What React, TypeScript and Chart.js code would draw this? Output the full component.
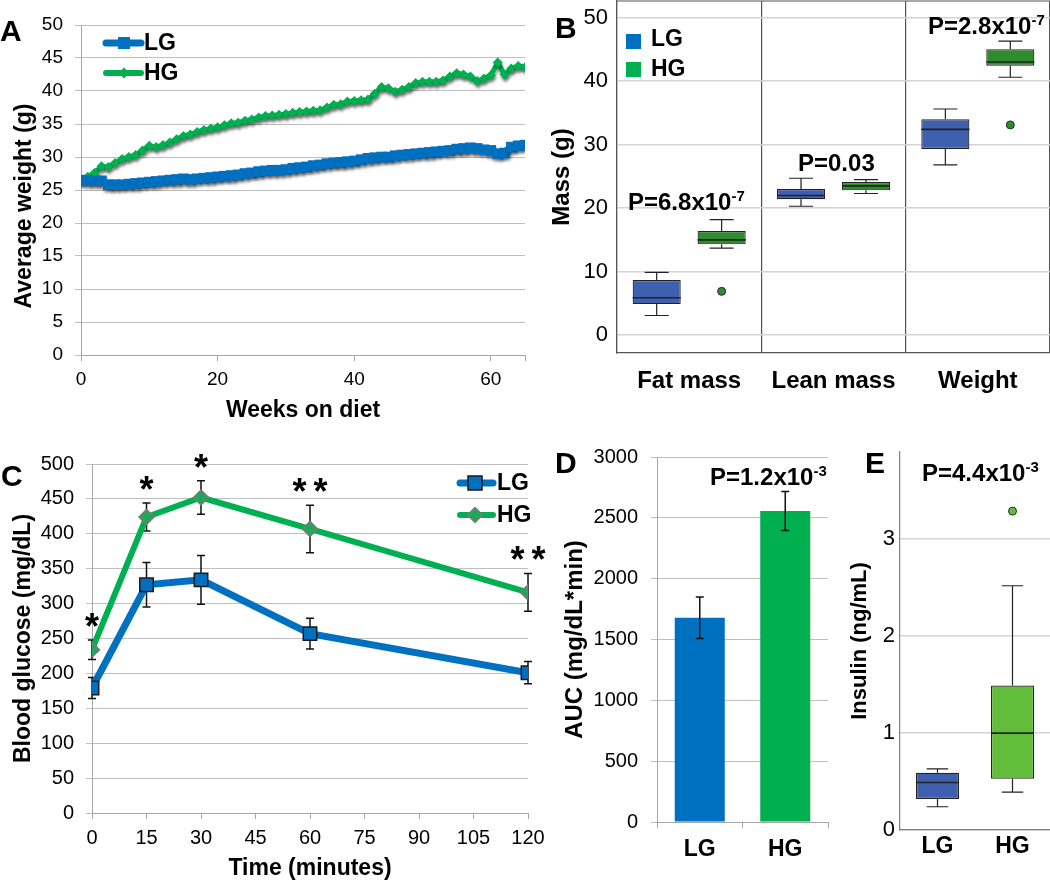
import React, { useEffect, useRef } from 'react';
import { Chart, registerables } from 'chart.js';

Chart.register(...registerables);

const FONT = '"Liberation Sans", Arial, Helvetica, sans-serif';
const BLUE = '#0070C0';
const GREEN = '#00B050';
const BOX_BLUE = '#3F5FAF';
const BOX_GREEN_B = '#2E8B2E';
const BOX_GREEN_E = '#62BE3A';

// ---------- Panel A: weight over time ----------
const A_WEEKS = [0, 1, 2, 3, 4, 5, 6, 7, 8, 9, 10, 11, 12, 13, 14, 15, 16, 17, 18, 19, 20, 21, 22, 23, 24, 25, 26, 27, 28, 29, 30, 31, 32, 33, 34, 35, 36, 37, 38, 39, 40, 41, 42, 43, 44, 45, 46, 47, 48, 49, 50, 51, 52, 53, 54, 55, 56, 57, 58, 59, 60, 61, 62, 63, 64, 65];
const A_LG = [26.5, 26.4, 26.4, 26.4, 25.8, 25.8, 25.8, 25.9, 26.0, 26.1, 26.2, 26.3, 26.4, 26.5, 26.6, 26.7, 26.6, 26.7, 26.8, 26.9, 27.0, 27.1, 27.2, 27.3, 27.5, 27.6, 27.8, 27.9, 28.0, 28.0, 28.1, 28.3, 28.4, 28.5, 28.7, 28.8, 29.0, 29.1, 29.2, 29.3, 29.4, 29.6, 29.8, 29.9, 30.0, 30.0, 30.2, 30.3, 30.4, 30.5, 30.6, 30.7, 30.8, 30.9, 31.0, 31.2, 31.3, 31.4, 31.3, 31.1, 31.0, 30.5, 30.6, 31.5, 31.7, 31.8];
const A_HG = [26.5, 27.0, 27.6, 28.6, 28.5, 29.1, 29.7, 30.0, 30.3, 31.0, 31.7, 31.5, 31.8, 32.2, 32.7, 33.2, 33.4, 33.8, 34.1, 34.3, 34.5, 34.8, 35.1, 35.2, 35.5, 35.7, 36.0, 36.2, 36.3, 36.4, 36.5, 36.7, 36.8, 36.9, 37.0, 37.1, 37.5, 37.9, 38.0, 38.4, 38.5, 38.6, 38.7, 39.6, 40.6, 40.4, 39.9, 40.2, 40.6, 41.2, 41.4, 41.4, 41.4, 41.6, 42.2, 42.7, 42.5, 42.2, 41.5, 41.9, 42.4, 44.3, 42.5, 43.4, 43.8, 43.6];
const A_X_TICKS = [0, 20, 40, 60];
const A_X_END = 65;
const A_Y_TICKS = [0, 5, 10, 15, 20, 25, 30, 35, 40, 45, 50];

// ---------- Panel B: body composition box plots ----------
const B_CATEGORIES = ['Fat mass', 'Lean mass', 'Weight'];
const B_LG_MIN = [3.1, 20.3, 26.8];
const B_LG_Q1 = [4.9, 21.4, 29.3];
const B_LG_MED = [5.9, 22.0, 32.4];
const B_LG_Q3 = [8.7, 23.0, 34.0];
const B_LG_MAX = [9.9, 24.7, 35.6];
const B_HG_MIN = [13.7, 22.3, 40.6];
const B_HG_Q1 = [14.3, 22.8, 42.4];
const B_HG_MED = [15.0, 23.5, 43.0];
const B_HG_Q3 = [16.4, 24.1, 45.0];
const B_HG_MAX = [18.2, 24.5, 46.3];
const B_HG_OUTLIERS = [6.9, null, 33.1];
const B_Y_TICKS = [0, 10, 20, 30, 40, 50];

// ---------- Panel C: glucose tolerance ----------
const C_TIMES = [0, 15, 30, 60, 120];
const C_LG = [179, 327, 334, 257, 201];
const C_LG_ERR = [15, 32, 35, 22, 16];
const C_HG = [234, 424, 452, 407, 316];
const C_HG_ERR = [14, 20, 24, 34, 27];
const C_STARS = ['*', '*', '*', '**', '**'];
const C_X_TICKS = [0, 15, 30, 45, 60, 75, 90, 105, 120];
const C_Y_TICKS = [0, 50, 100, 150, 200, 250, 300, 350, 400, 450, 500];

// ---------- Panel D: AUC ----------
const D_GROUPS = ['LG', 'HG'];
const D_AUC = [1679, 2556];
const D_ERR = [170, 160];
const D_Y_TICKS = [0, 500, 1000, 1500, 2000, 2500, 3000];

// ---------- Panel E: insulin box plots ----------
const E_GROUPS = ['LG', 'HG'];
const E_MIN = [0.24, 0.39];
const E_Q1 = [0.32, 0.53];
const E_MED = [0.49, 1.0];
const E_Q3 = [0.59, 1.49];
const E_MAX = [0.63, 2.52];
const E_OUTLIERS = [null, 3.29];
const E_Y_TICKS = [0, 1, 2, 3];

// ---------- helpers ----------
const fixY = (w: number) => (s: any) => { s.width = w; s.paddingTop = 0; s.paddingBottom = 0; };
const fixX = (h: number) => (s: any) => { s.height = h; s.paddingLeft = 0; s.paddingRight = 0; };
const setTicks = (vals: number[]) => (s: any) => { s.ticks = vals.map((v) => ({ value: v })); };
const plain = (v: any) => String(v);

function drawDiamond(ctx: CanvasRenderingContext2D, x: number, y: number, r: number) {
  ctx.beginPath();
  ctx.moveTo(x - r, y);
  ctx.lineTo(x, y - r);
  ctx.lineTo(x + r, y);
  ctx.lineTo(x, y + r);
  ctx.closePath();
}

function boxPlugin(id: string, groups: any[]) {
  return {
    id,
    afterDatasetsDraw(chart: any) {
      const { ctx } = chart;
      const ys = chart.scales.y;
      groups.forEach((g) => {
        const meta = chart.getDatasetMeta(g.dataset);
        meta.data.forEach((el: any, i: number) => {
          const { x, width } = el.getProps(['x', 'width'], true);
          const half = width / 2;
          const cap = width / 4;
          const pMin = ys.getPixelForValue(g.min[i]);
          const pQ1 = ys.getPixelForValue(g.q1[i]);
          const pMed = ys.getPixelForValue(g.med[i]);
          const pQ3 = ys.getPixelForValue(g.q3[i]);
          const pMax = ys.getPixelForValue(g.max[i]);
          ctx.save();
          ctx.strokeStyle = '#222';
          ctx.lineWidth = 1.2;
          ctx.beginPath();
          ctx.moveTo(x, pQ3); ctx.lineTo(x, pMax);
          ctx.moveTo(x - cap, pMax); ctx.lineTo(x + cap, pMax);
          ctx.moveTo(x, pQ1); ctx.lineTo(x, pMin);
          ctx.moveTo(x - cap, pMin); ctx.lineTo(x + cap, pMin);
          ctx.stroke();
          ctx.lineWidth = 1.6;
          ctx.beginPath();
          ctx.moveTo(x - half, pMed); ctx.lineTo(x + half, pMed);
          ctx.stroke();
          const o = g.outliers ? g.outliers[i] : null;
          if (o !== null && o !== undefined) {
            ctx.beginPath();
            ctx.arc(x, ys.getPixelForValue(o), 4, 0, Math.PI * 2);
            ctx.fillStyle = g.outlierColor;
            ctx.fill();
            ctx.lineWidth = 1;
            ctx.strokeStyle = '#2a2a2a';
            ctx.stroke();
          }
          ctx.restore();
        });
      });
    },
  };
}

function errorBarPlugin(id: string, items: { dataset: number; values: number[]; errs: number[] }[], when: 'before' | 'after') {
  const draw = (chart: any) => {
    const { ctx } = chart;
    const ys = chart.scales.y;
    items.forEach((it) => {
      const meta = chart.getDatasetMeta(it.dataset);
      meta.data.forEach((el: any, i: number) => {
        const x = el.x;
        const top = ys.getPixelForValue(it.values[i] + it.errs[i]);
        const bot = ys.getPixelForValue(it.values[i] - it.errs[i]);
        ctx.save();
        ctx.strokeStyle = '#111';
        ctx.lineWidth = 1.5;
        ctx.beginPath();
        ctx.moveTo(x, top); ctx.lineTo(x, bot);
        ctx.moveTo(x - 4, top); ctx.lineTo(x + 4, top);
        ctx.moveTo(x - 4, bot); ctx.lineTo(x + 4, bot);
        ctx.stroke();
        ctx.restore();
      });
    });
  };
  return when === 'before' ? { id, beforeDatasetsDraw: draw } : { id, afterDatasetsDraw: draw };
}

const tickFont = (size: number, bold = false) => ({ size, family: FONT, weight: bold ? 'bold' : 'normal' });

// ---------- configs ----------
function configA(): any {
  return {
    type: 'line',
    data: {
      datasets: [
        {
          label: 'LG',
          data: A_WEEKS.map((w, i) => ({ x: w, y: A_LG[i] })),
          borderColor: BLUE, backgroundColor: BLUE,
          borderWidth: 8, pointStyle: 'rect', pointRadius: 7.5, pointBorderWidth: 0, tension: 0,
        },
        {
          label: 'HG',
          data: A_WEEKS.map((w, i) => ({ x: w, y: A_HG[i] })),
          borderColor: GREEN, backgroundColor: GREEN,
          borderWidth: 5, pointStyle: 'rectRot', pointRadius: 5, pointBorderWidth: 0, tension: 0,
        },
      ],
    },
    options: {
      responsive: false, animation: false,
      layout: { padding: { top: 25, right: 15, left: 0, bottom: 0 } },
      plugins: { legend: { display: false }, tooltip: { enabled: false } },
      scales: {
        x: {
          type: 'linear', min: 0, max: A_X_END,
          afterBuildTicks: setTicks([...A_X_TICKS, A_X_END]),
          afterFit: fixX(70),
          ticks: { callback: (v: number) => (A_X_TICKS.includes(v) ? String(v) : ''), font: tickFont(19), color: '#000', padding: 7, maxRotation: 0, autoSkip: false },
          grid: { drawOnChartArea: false, drawTicks: true, tickLength: 6, color: '#A6A6A6' },
          border: { color: '#A6A6A6' },
          title: { display: true, text: 'Weeks on diet', font: tickFont(23, true), color: '#000', padding: { top: 0, bottom: 1 } },
        },
        y: {
          min: 0, max: 50,
          afterBuildTicks: setTicks(A_Y_TICKS),
          afterFit: fixY(81),
          ticks: { callback: plain, font: tickFont(19), color: '#000', padding: 12 },
          grid: { color: '#BFBFBF', tickLength: 6 },
          border: { color: '#A6A6A6' },
          title: { display: true, text: 'Average weight (g)     ', font: tickFont(23, true), color: '#000', padding: { top: 11, bottom: 0 } },
        },
      },
    },
    plugins: [
      {
        id: 'shadowA',
        beforeDatasetsDraw(chart: any) {
          const c = chart.ctx; c.save();
          c.shadowColor = 'rgba(0,0,0,0.35)'; c.shadowBlur = 3; c.shadowOffsetY = 3; c.shadowOffsetX = 1;
        },
        afterDatasetsDraw(chart: any) { chart.ctx.restore(); },
      },
      {
        id: 'legendA',
        afterDraw(chart: any) {
          const c = chart.ctx;
          c.save();
          c.strokeStyle = BLUE; c.lineWidth = 7; c.lineCap = 'round';
          c.beginPath(); c.moveTo(106, 43); c.lineTo(141, 43); c.stroke();
          c.fillStyle = BLUE; c.fillRect(118, 37, 12, 12);
          c.strokeStyle = GREEN; c.lineWidth = 6;
          c.beginPath(); c.moveTo(106, 73); c.lineTo(141, 73); c.stroke();
          c.fillStyle = GREEN; drawDiamond(c, 124, 73, 5.5); c.fill();
          c.fillStyle = '#000'; c.font = `bold 23px ${FONT}`; c.textBaseline = 'middle';
          c.fillText('LG', 144, 44);
          c.fillText('HG', 144, 74);
          c.restore();
        },
      },
    ],
  };
}

function configB(): any {
  return {
    type: 'bar',
    data: {
      labels: B_CATEGORIES,
      datasets: [
        {
          label: 'LG', data: B_LG_Q1.map((q, i) => [q, B_LG_Q3[i]]),
          backgroundColor: BOX_BLUE, borderColor: '#222', borderWidth: 1.2, borderSkipped: false,
          categoryPercentage: 0.9, barPercentage: 0.74,
        },
        {
          label: 'HG', data: B_HG_Q1.map((q, i) => [q, B_HG_Q3[i]]),
          backgroundColor: BOX_GREEN_B, borderColor: '#222', borderWidth: 1.2, borderSkipped: false,
          categoryPercentage: 0.9, barPercentage: 0.74,
        },
      ],
    },
    options: {
      responsive: false, animation: false,
      layout: { padding: { top: 1, right: 0, left: 0, bottom: 0 } },
      plugins: { legend: { display: false }, tooltip: { enabled: false } },
      scales: {
        x: {
          afterFit: fixX(67),
          ticks: { font: tickFont(24, true), color: '#000', padding: 14, maxRotation: 0, autoSkip: false },
          grid: { offset: true, drawOnChartArea: true, drawTicks: false, color: '#555', lineWidth: 1.2 },
          border: { color: '#555', width: 1.2 },
        },
        y: {
          min: -2.8, max: 52.6,
          afterBuildTicks: setTicks(B_Y_TICKS),
          afterFit: fixY(77),
          ticks: { callback: plain, font: tickFont(22), color: '#000', padding: 9 },
          grid: { color: '#D4D4D4', lineWidth: 1.5, drawTicks: false },
          border: { color: '#555', width: 1.2 },
          title: { display: true, text: 'Mass (g)', font: tickFont(24, true), color: '#000', padding: { top: 8, bottom: 0 } },
        },
      },
    },
    plugins: [
      {
        id: 'frameB',
        beforeDatasetsDraw(chart: any) {
          const c = chart.ctx; const a = chart.chartArea;
          c.save(); c.strokeStyle = '#555'; c.lineWidth = 1.2;
          c.beginPath(); c.moveTo(a.left, a.top); c.lineTo(a.right, a.top); c.stroke();
          c.restore();
        },
      },
      boxPlugin('boxB', [
        { dataset: 0, min: B_LG_MIN, q1: B_LG_Q1, med: B_LG_MED, q3: B_LG_Q3, max: B_LG_MAX, outliers: null, outlierColor: BOX_BLUE },
        { dataset: 1, min: B_HG_MIN, q1: B_HG_Q1, med: B_HG_MED, q3: B_HG_Q3, max: B_HG_MAX, outliers: B_HG_OUTLIERS, outlierColor: BOX_GREEN_B },
      ]),
      {
        id: 'legendB',
        afterDraw(chart: any) {
          const c = chart.ctx;
          c.save();
          c.fillStyle = BLUE; c.fillRect(86, 34, 15, 15);
          c.fillStyle = GREEN; c.fillRect(86, 62, 15, 15);
          c.fillStyle = '#000'; c.font = `bold 23px ${FONT}`; c.textBaseline = 'middle';
          c.fillText('LG', 111, 40);
          c.fillText('HG', 111, 70);
          c.restore();
        },
      },
    ],
  };
}

function configC(): any {
  return {
    type: 'line',
    data: {
      datasets: [
        {
          label: 'LG', data: C_TIMES.map((t, i) => ({ x: t, y: C_LG[i] })),
          borderColor: BLUE, backgroundColor: BLUE, borderWidth: 7,
          pointStyle: 'rect', pointRadius: 9.5, pointBorderColor: '#1a1a1a', pointBorderWidth: 1.5, tension: 0,
        },
        {
          label: 'HG', data: C_TIMES.map((t, i) => ({ x: t, y: C_HG[i] })),
          borderColor: GREEN, backgroundColor: '#1FA858', borderWidth: 6,
          pointStyle: 'rectRot', pointRadius: 7.5, pointBorderColor: '#7a7a7a', pointBorderWidth: 1.5, tension: 0,
        },
      ],
    },
    options: {
      responsive: false, animation: false,
      layout: { padding: { top: 44, right: 32, left: 0, bottom: 0 } },
      plugins: { legend: { display: false }, tooltip: { enabled: false } },
      scales: {
        x: {
          type: 'linear', min: 0, max: 120,
          afterBuildTicks: setTicks(C_X_TICKS),
          afterFit: fixX(69),
          ticks: { callback: plain, font: tickFont(20), color: '#000', padding: 7, maxRotation: 0, autoSkip: false },
          grid: { drawOnChartArea: false, tickLength: 6, color: '#A6A6A6' },
          border: { color: '#A6A6A6' },
          title: { display: true, text: 'Time (minutes)', font: tickFont(23, true), color: '#000', padding: { top: 0, bottom: 0 } },
        },
        y: {
          min: 0, max: 500,
          afterBuildTicks: setTicks(C_Y_TICKS),
          afterFit: fixY(92),
          ticks: { callback: plain, font: tickFont(20), color: '#000', padding: 12 },
          grid: { color: '#BFBFBF', tickLength: 6 },
          border: { color: '#A6A6A6' },
          title: { display: true, text: 'Blood glucose (mg/dL)', font: tickFont(23, true), color: '#000', padding: { top: 10, bottom: 0 } },
        },
      },
    },
    plugins: [
      errorBarPlugin('errC', [
        { dataset: 0, values: C_LG, errs: C_LG_ERR },
        { dataset: 1, values: C_HG, errs: C_HG_ERR },
      ], 'before'),
      {
        id: 'starsC',
        afterDraw(chart: any) {
          const c = chart.ctx; const xs = chart.scales.x; const ys = chart.scales.y;
          c.save();
          c.fillStyle = '#000'; c.font = `bold 36px ${FONT}`; c.textAlign = 'center'; c.textBaseline = 'alphabetic';
          C_STARS.forEach((s, i) => {
            const x = xs.getPixelForValue(C_TIMES[i]);
            const cy = ys.getPixelForValue(C_HG[i] + C_HG_ERR[i]) - 21;
            const n = s.length;
            for (let k = 0; k < n; k++) {
              const dx = (k - (n - 1) / 2) * 21;
              c.fillText('*', x + dx, cy + 0.55 * 36);
            }
          });
          c.restore();
        },
      },
      {
        id: 'legendC',
        afterDraw(chart: any) {
          const c = chart.ctx;
          c.save();
          c.lineCap = 'round';
          c.strokeStyle = BLUE; c.lineWidth = 7;
          c.beginPath(); c.moveTo(460, 63); c.lineTo(493, 63); c.stroke();
          c.fillStyle = BLUE; c.fillRect(468, 56, 14, 14);
          c.strokeStyle = '#1a1a1a'; c.lineWidth = 1.5; c.strokeRect(468, 56, 14, 14);
          c.strokeStyle = GREEN; c.lineWidth = 6;
          c.beginPath(); c.moveTo(460, 95); c.lineTo(493, 95); c.stroke();
          c.fillStyle = '#1FA858'; drawDiamond(c, 475, 95, 7.5); c.fill();
          c.strokeStyle = '#7a7a7a'; c.lineWidth = 1.5; c.stroke();
          c.fillStyle = '#000'; c.font = `bold 23px ${FONT}`; c.textBaseline = 'middle';
          c.fillText('LG', 497, 64);
          c.fillText('HG', 497, 96);
          c.restore();
        },
      },
    ],
  };
}

function configD(): any {
  return {
    type: 'bar',
    data: {
      labels: D_GROUPS,
      datasets: [
        { label: 'AUC', data: D_AUC, backgroundColor: [BLUE, GREEN], borderWidth: 0, categoryPercentage: 1, barPercentage: 0.585 },
      ],
    },
    options: {
      responsive: false, animation: false,
      layout: { padding: { top: 37, right: 32, left: 0, bottom: 0 } },
      plugins: { legend: { display: false }, tooltip: { enabled: false } },
      scales: {
        x: {
          afterFit: fixX(60),
          ticks: { font: tickFont(23, true), color: '#000', padding: 8, maxRotation: 0 },
          grid: { offset: true, drawOnChartArea: false, tickLength: 6, color: '#A6A6A6' },
          border: { color: '#A6A6A6' },
        },
        y: {
          min: 0, max: 3000,
          afterBuildTicks: setTicks(D_Y_TICKS),
          afterFit: fixY(117),
          ticks: { callback: plain, font: tickFont(20), color: '#000', padding: 13 },
          grid: { color: '#BFBFBF', tickLength: 6 },
          border: { color: '#A6A6A6' },
          title: { display: true, text: 'AUC (mg/dL*min)', font: tickFont(24, true), color: '#000', padding: { top: 21, bottom: 0 } },
        },
      },
    },
    plugins: [errorBarPlugin('errD', [{ dataset: 0, values: D_AUC, errs: D_ERR }], 'after')],
  };
}

function configE(): any {
  return {
    type: 'bar',
    data: {
      labels: E_GROUPS,
      datasets: [
        {
          label: 'Insulin', data: E_Q1.map((q, i) => [q, E_Q3[i]]),
          backgroundColor: [BOX_BLUE, BOX_GREEN_E], borderColor: '#222', borderWidth: 1.2, borderSkipped: false,
          categoryPercentage: 1, barPercentage: 0.573,
        },
      ],
    },
    options: {
      responsive: false, animation: false,
      layout: { padding: { top: 32, right: 0, left: 0, bottom: 0 } },
      plugins: { legend: { display: false }, tooltip: { enabled: false } },
      scales: {
        x: {
          afterFit: fixX(52),
          ticks: { font: tickFont(23, true), color: '#000', padding: 3, maxRotation: 0 },
          grid: { drawOnChartArea: false, drawTicks: false },
          border: { color: '#7F7F7F', width: 1.2 },
        },
        y: {
          min: 0, max: 3.9,
          afterBuildTicks: setTicks(E_Y_TICKS),
          afterFit: fixY(70),
          ticks: { callback: plain, font: tickFont(22), color: '#000', padding: 5 },
          grid: { color: '#D4D4D4', lineWidth: 1.5, drawTicks: false },
          border: { color: '#7F7F7F', width: 1.2 },
          title: { display: true, text: 'Insulin (ng/mL)', font: tickFont(22, true), color: '#000', padding: { top: 17, bottom: 0 } },
        },
      },
    },
    plugins: [
      boxPlugin('boxE', [
        { dataset: 0, min: E_MIN, q1: E_Q1, med: E_MED, q3: E_Q3, max: E_MAX, outliers: E_OUTLIERS, outlierColor: BOX_GREEN_E },
      ]),
    ],
  };
}

// ---------- text overlays ----------
function Letter({ text, left, cy }: { text: string; left: number; cy: number }) {
  return (
    <div style={{ position: 'absolute', left, top: cy - 15, fontSize: 30, lineHeight: '30px', fontWeight: 700, fontFamily: FONT, color: '#000' }}>{text}</div>
  );
}

function PValue({ left, cy, base, exp }: { left: number; cy: number; base: string; exp?: string }) {
  return (
    <div style={{ position: 'absolute', left, top: cy - 12, fontSize: 24, lineHeight: '24px', fontWeight: 700, fontFamily: FONT, whiteSpace: 'nowrap', color: '#000' }}>
      {base}
      {exp ? <span style={{ fontSize: 15, position: 'relative', top: -9 }}>{exp}</span> : null}
    </div>
  );
}

export default function App() {
  const aRef = useRef<HTMLCanvasElement>(null);
  const bRef = useRef<HTMLCanvasElement>(null);
  const cRef = useRef<HTMLCanvasElement>(null);
  const dRef = useRef<HTMLCanvasElement>(null);
  const eRef = useRef<HTMLCanvasElement>(null);

  useEffect(() => {
    Chart.defaults.font.family = FONT;
    Chart.defaults.color = '#000';
    const charts = [
      new Chart(aRef.current as HTMLCanvasElement, configA()),
      new Chart(bRef.current as HTMLCanvasElement, configB()),
      new Chart(cRef.current as HTMLCanvasElement, configC()),
      new Chart(dRef.current as HTMLCanvasElement, configD()),
      new Chart(eRef.current as HTMLCanvasElement, configE()),
    ];
    return () => charts.forEach((c) => c.destroy());
  }, []);

  const cv = (left: number, top: number, w: number, h: number): React.CSSProperties => ({ position: 'absolute', left, top, width: w, height: h });

  return (
    <div style={{ position: 'absolute', left: 0, top: 0, width: 1050, height: 882, background: '#fff', overflow: 'hidden' }}>
      <canvas ref={aRef} width={540} height={425} style={cv(0, 0, 540, 425)} />
      <canvas ref={bRef} width={510} height={420} style={cv(540, 0, 510, 420)} />
      <canvas ref={cRef} width={560} height={462} style={cv(0, 420, 560, 462)} />
      <canvas ref={dRef} width={320} height={462} style={cv(540, 420, 320, 462)} />
      <canvas ref={eRef} width={220} height={462} style={cv(830, 420, 220, 462)} />

      <Letter text="A" left={0} cy={31} />
      <Letter text="B" left={555} cy={28} />
      <Letter text="C" left={1} cy={476} />
      <Letter text="D" left={555} cy={463} />
      <Letter text="E" left={865} cy={463} />

      <PValue left={628} cy={202} base="P=6.8x10" exp="-7" />
      <PValue left={798} cy={163} base="P=0.03" />
      <PValue left={928} cy={26} base="P=2.8x10" exp="-7" />
      <PValue left={710} cy={477} base="P=1.2x10" exp="-3" />
      <PValue left={922} cy={473} base="P=4.4x10" exp="-3" />
    </div>
  );
}
